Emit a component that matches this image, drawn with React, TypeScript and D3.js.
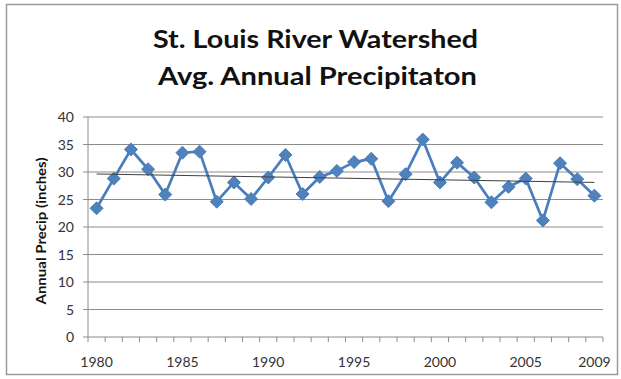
import React from "react";
import * as d3 from "d3";

const years: number[] = [1980,1981,1982,1983,1984,1985,1986,1987,1988,1989,1990,1991,1992,1993,1994,1995,1996,1997,1998,1999,2000,2001,2002,2003,2004,2005,2006,2007,2008,2009];
const precip: number[] = [23.4,28.8,34.1,30.5,25.9,33.5,33.7,24.6,28.1,25.1,29.0,33.1,26.0,29.1,30.2,31.8,32.4,24.7,29.6,35.9,28.1,31.7,29.0,24.5,27.3,28.8,21.2,31.6,28.7,25.7];
const xLabels: number[] = [1980,1985,1990,1995,2000,2005,2009];
const yTicks: number[] = [0,5,10,15,20,25,30,35,40];
const titleLines: string[] = ["St. Louis River Watershed", "Avg. Annual Precipitaton"];
const yTitle = "Annual Precip (inches)";

export default function App() {
  const W = 621, H = 379;
  const left = 88, right = 603, top = 117, bottom = 337;
  const x = d3.scaleBand<number>().domain(years).range([left, right]).padding(0);
  const y = d3.scaleLinear().domain([0, 40]).range([bottom, top]);
  const cx = (yr: number) => (x(yr) as number) + x.bandwidth() / 2;

  // linear trend
  const n = years.length;
  const mx = d3.mean(years) as number;
  const my = d3.mean(precip) as number;
  let sxy = 0, sxx = 0;
  years.forEach((yr, i) => { sxy += (yr - mx) * (precip[i] - my); sxx += (yr - mx) ** 2; });
  const slope = sxy / sxx;
  const trend = (yr: number) => my + slope * (yr - mx);

  const line = d3.line<number>().x((_, i) => cx(years[i])).y((v) => y(v));
  const font = "Lato, 'Open Sans', sans-serif";
  const boundaries = d3.range(n + 1).map((i) => left + i * x.bandwidth());
  const titleWidths = [325, 319];
  const titleCenters = [315.5, 317.5];

  return (
    <svg width={W} height={H} style={{ position: "absolute", left: 0, top: 0, background: "#fff" }}>
      <rect x={0} y={0} width={W} height={H} fill="#fff" />
      <rect x={6.5} y={4.5} width={611} height={370} fill="none" stroke="#9a9a9a" strokeWidth={1.5} />
      {titleLines.map((t, i) => (
        <text key={i} x={titleCenters[i] - titleWidths[i] / 2} y={48 + i * 37} textLength={titleWidths[i]} lengthAdjust="spacingAndGlyphs" fontFamily={font} fontWeight="bold" fontSize={25} fill="#111">{t}</text>
      ))}
      {yTicks.map((t) => (
        <g key={t}>
          {t > 0 && <line x1={left} x2={right} y1={y(t)} y2={y(t)} stroke="#8c8c8c" strokeWidth={1} />}
          <line x1={left - 5} x2={left} y1={y(t)} y2={y(t)} stroke="#8c8c8c" strokeWidth={1} />
          <text x={74} y={y(t) + 5} textAnchor="end" fontFamily={font} fontSize={14} fill="#333">{t}</text>
        </g>
      ))}
      <line x1={left} x2={left} y1={top} y2={bottom} stroke="#8c8c8c" strokeWidth={1} />
      <line x1={left} x2={right} y1={bottom} y2={bottom} stroke="#8c8c8c" strokeWidth={1} />
      {boundaries.map((bx, i) => (
        <line key={i} x1={bx} x2={bx} y1={bottom} y2={bottom + 5} stroke="#8c8c8c" strokeWidth={1} />
      ))}
      {xLabels.map((yr) => (
        <text key={yr} x={cx(yr)} y={367} textAnchor="middle" fontFamily={font} fontSize={14} fill="#333">{yr}</text>
      ))}
      <text transform={`translate(46,${(top + bottom) / 2 + 4}) rotate(-90)`} textAnchor="middle" textLength={147} lengthAdjust="spacingAndGlyphs" fontFamily={font} fontWeight="bold" fontSize={13.5} fill="#111">{yTitle}</text>
      <path d={line(precip) || ""} fill="none" stroke="#4a7ebb" strokeWidth={2.75} strokeLinejoin="round" />
      {precip.map((v, i) => {
        const px = cx(years[i]), py = y(v), r = 6.5;
        return <path key={i} d={`M${px},${py - r}L${px + r},${py}L${px},${py + r}L${px - r},${py}Z`} fill="#4f81bd" stroke="#4a7ebb" strokeWidth={1} />;
      })}
      <line x1={cx(years[0])} x2={cx(years[n - 1])} y1={y(trend(years[0]))} y2={y(trend(years[n - 1]))} stroke="#404040" strokeWidth={1} />
    </svg>
  );
}
